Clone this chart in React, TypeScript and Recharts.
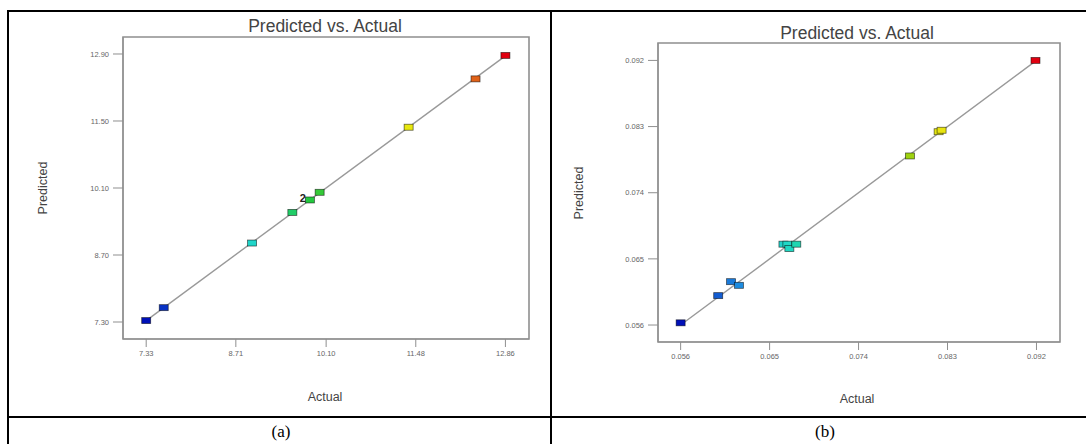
import React from 'react';
import { ReferenceArea, ReferenceLine, Scatter, ScatterChart, XAxis, YAxis } from 'recharts';

// panel (a)
const actualA = [7.33, 7.6, 8.96, 9.58, 9.85, 10.0, 11.37, 12.4, 12.86];
const predictedA = [7.33, 7.6, 8.95, 9.59, 9.85, 10.01, 11.37, 12.38, 12.87];
const repeatsA = [1, 1, 1, 1, 2, 1, 1, 1, 1];
const ticksXA = [7.33, 8.71, 10.1, 11.48, 12.86];
const ticksYA = [7.3, 8.7, 10.1, 11.5, 12.9];
const domainXA = [6.973, 13.223];
const domainYA = [6.945, 13.255];

// panel (b)
const actualB = [0.056, 0.0598, 0.0611, 0.0619, 0.0664, 0.0668, 0.067, 0.0677, 0.0792, 0.0821, 0.0824, 0.0919];
const predictedB = [0.0563, 0.06, 0.0619, 0.0614, 0.067, 0.067, 0.0664, 0.067, 0.079, 0.0823, 0.0825, 0.092];
const repeatsB = [1, 1, 1, 1, 1, 1, 1, 1, 1, 1, 1, 1];
const ticksB = [0.056, 0.065, 0.074, 0.083, 0.092];
const domainXB = [0.05371, 0.09438];
const domainYB = [0.05369, 0.09437];

const FONT = '"Liberation Sans", Arial, sans-serif';
const GRID = '#8f8f8f';

const stops: [number, number[]][] = [
  [0, [0, 16, 184]],
  [0.1, [18, 88, 208]],
  [0.17, [30, 144, 224]],
  [0.3, [32, 216, 200]],
  [0.45, [32, 200, 64]],
  [0.64, [152, 208, 16]],
  [0.73, [232, 232, 16]],
  [0.92, [224, 96, 24]],
  [1, [224, 0, 16]],
];

function colorAt(t: number) {
  const v = Math.max(0, Math.min(1, t));
  for (let i = 1; i < stops.length; i++) {
    const [t1, c1] = stops[i];
    const [t0, c0] = stops[i - 1];
    if (v <= t1) {
      const f = (v - t0) / (t1 - t0);
      const c = c0.map((a, k) => Math.round(a + (c1[k] - a) * f));
      return `rgb(${c[0]},${c[1]},${c[2]})`;
    }
  }
  return 'rgb(224,0,16)';
}

function buildRows(actual: number[], predicted: number[], repeats: number[]) {
  const lo = Math.min(...actual);
  const hi = Math.max(...actual);
  return actual.map((x, i) => ({
    x,
    y: predicted[i],
    n: repeats[i],
    color: colorAt((x - lo) / (hi - lo)),
  }));
}

const Marker = (props: any) => {
  const { cx, cy, payload } = props;
  if (cx == null || cy == null) return null;
  return (
    <g>
      <rect x={cx - 4.5} y={cy - 3} width={9} height={6} fill={payload.color} stroke="rgba(0,0,0,0.6)" strokeWidth={0.8} />
      {payload.n > 1 && (
        <text x={cx - 4} y={cy + 2} textAnchor="end" fontSize={11} fontWeight="bold" fill="#222" fontFamily={FONT}>
          {payload.n}
        </text>
      )}
    </g>
  );
};

type PanelProps = {
  width: number;
  height: number;
  margin: { top: number; right: number; bottom: number; left: number };
  actual: number[];
  predicted: number[];
  repeats: number[];
  ticksX: number[];
  ticksY: number[];
  domainX: number[];
  domainY: number[];
  digits: number;
};

const Panel: React.FC<PanelProps> = (p) => {
  const rows = buildRows(p.actual, p.predicted, p.repeats);
  const lo = Math.min(...p.actual);
  const hi = Math.max(...p.actual);
  const tick = { fontSize: 7.5, fill: '#666', fontFamily: FONT };
  return (
    <ScatterChart width={p.width} height={p.height} margin={p.margin}>
      <XAxis
        type="number"
        dataKey="x"
        domain={p.domainX}
        ticks={p.ticksX}
        allowDataOverflow
        height={30}
        tickSize={8}
        tickMargin={4}
        stroke={GRID}
        tick={tick}
        tickFormatter={(v: number) => v.toFixed(p.digits)}
      />
      <YAxis
        type="number"
        dataKey="y"
        domain={p.domainY}
        ticks={p.ticksY}
        allowDataOverflow
        width={50}
        tickSize={10}
        tickMargin={4}
        stroke={GRID}
        tick={tick}
        tickFormatter={(v: number) => v.toFixed(p.digits)}
      />
      <ReferenceArea
        x1={p.domainX[0]}
        x2={p.domainX[1]}
        y1={p.domainY[0]}
        y2={p.domainY[1]}
        fill="none"
        fillOpacity={0}
        stroke={GRID}
        strokeWidth={1.6}
      />
      <ReferenceLine
        segment={[
          { x: lo, y: lo },
          { x: hi, y: hi },
        ]}
        stroke="#999"
        strokeWidth={1.4}
      />
      <Scatter data={rows} shape={Marker} isAnimationActive={false} />
    </ScatterChart>
  );
};

const abs = (left: number, top: number, extra: React.CSSProperties = {}): React.CSSProperties => ({
  position: 'absolute',
  left,
  top,
  transform: 'translate(-50%, -50%)',
  whiteSpace: 'nowrap',
  fontFamily: FONT,
  ...extra,
});

const line = (left: number, top: number, width: number, height: number): React.CSSProperties => ({
  position: 'absolute',
  left,
  top,
  width,
  height,
  background: '#000',
});

export default function App() {
  return (
    <div style={{ position: 'absolute', left: 0, top: 0, width: 1086, height: 444, background: '#fff', overflow: 'hidden' }}>
      <div style={{ position: 'absolute', left: 0, top: 0 }}>
        <Panel
          width={551}
          height={417}
          margin={{ top: 37, right: 22, bottom: 48, left: 73 }}
          actual={actualA}
          predicted={predictedA}
          repeats={repeatsA}
          ticksX={ticksXA}
          ticksY={ticksYA}
          domainX={domainXA}
          domainY={domainYA}
          digits={2}
        />
      </div>
      <div style={{ position: 'absolute', left: 551, top: 0 }}>
        <Panel
          width={535}
          height={417}
          margin={{ top: 43, right: 26, bottom: 45, left: 57 }}
          actual={actualB}
          predicted={predictedB}
          repeats={repeatsB}
          ticksX={ticksB}
          ticksY={ticksB}
          domainX={domainXB}
          domainY={domainYB}
          digits={3}
        />
      </div>

      <div style={abs(325, 26, { fontSize: 17.5, color: '#444' })}>Predicted vs. Actual</div>
      <div style={abs(857, 33, { fontSize: 17.5, color: '#444' })}>Predicted vs. Actual</div>
      <div style={abs(43, 188, { fontSize: 12.5, color: '#444', transform: 'translate(-50%, -50%) rotate(-90deg)' })}>Predicted</div>
      <div style={abs(579, 193, { fontSize: 12.5, color: '#444', transform: 'translate(-50%, -50%) rotate(-90deg)' })}>Predicted</div>
      <div style={abs(325, 397, { fontSize: 12.5, color: '#444' })}>Actual</div>
      <div style={abs(857, 399, { fontSize: 12.5, color: '#444' })}>Actual</div>
      <div style={abs(281, 432, { fontSize: 17, fontFamily: '"Liberation Serif", "Times New Roman", serif' })}>(a)</div>
      <div style={abs(825, 432, { fontSize: 17, fontFamily: '"Liberation Serif", "Times New Roman", serif' })}>(b)</div>

      <div style={line(8, 10, 1078, 2)} />
      <div style={line(7, 10, 2, 434)} />
      <div style={line(550, 10, 2, 434)} />
      <div style={line(8, 416, 1078, 2)} />
    </div>
  );
}
